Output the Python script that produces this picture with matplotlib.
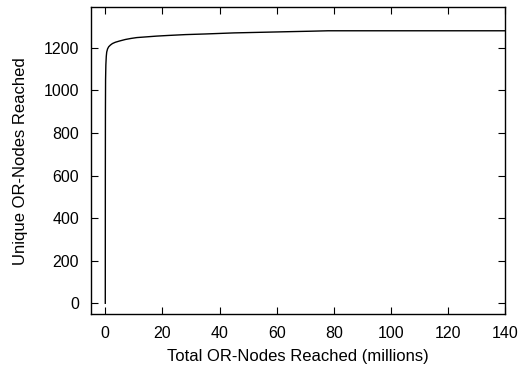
import matplotlib
matplotlib.use("Agg")
import matplotlib.pyplot as plt

# total OR-nodes reached (millions) vs unique OR-nodes reached
total_millions = [0, 0.02, 0.05, 0.1, 0.2, 0.35, 0.5, 0.8, 1.2, 1.8, 2.5, 3.5, 5, 7, 9,
                  11, 14, 18, 22, 28, 35, 45, 55, 65, 72, 78, 90, 110, 140]
unique_nodes = [0, 600, 900, 1050, 1120, 1160, 1180, 1195, 1205, 1213, 1220, 1226, 1232,
                1239, 1244, 1248, 1251, 1255, 1258, 1262, 1265, 1270, 1273, 1276, 1278,
                1280, 1280, 1280, 1280]

x_ticks = [0, 20, 40, 60, 80, 100, 120, 140]
y_ticks = [0, 200, 400, 600, 800, 1000, 1200]

plt.rcParams["font.family"] = ["Liberation Sans", "DejaVu Sans"]

fig = plt.figure(figsize=(5.23, 3.68), dpi=100)
ax = fig.add_axes([0.174, 0.147, 0.792, 0.833])
ax.plot(total_millions, unique_nodes, color="black", lw=1.0)

ax.set_xlim(-5, 140)
ax.set_ylim(-50, 1390)
ax.set_xticks(x_ticks)
ax.set_yticks(y_ticks)
ax.tick_params(direction="in", top=True, right=True, length=5, width=0.8,
               pad=8.5, labelsize=11.5)
for s in ax.spines.values():
    s.set_linewidth(1.0)
ax.set_xlabel("Total OR-Nodes Reached (millions)", fontsize=12, labelpad=6)
ax.set_ylabel("Unique OR-Nodes Reached", fontsize=12, labelpad=11)

fig.savefig("out.png", dpi=100)
